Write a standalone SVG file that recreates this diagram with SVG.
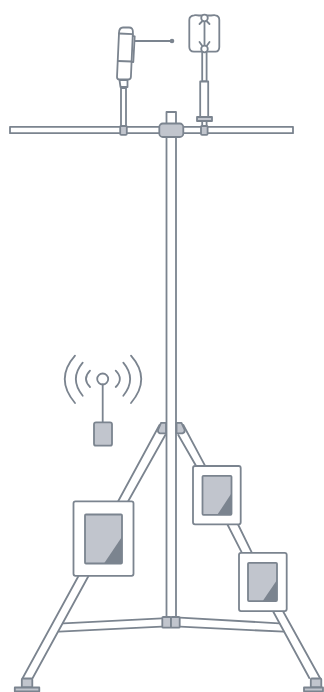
<svg xmlns="http://www.w3.org/2000/svg" width="324" height="692" viewBox="0 0 324 692">
<style>
.s{fill:none;stroke:#7b848f;stroke-width:1.8;stroke-linecap:round;stroke-linejoin:round}
.w{fill:#fff;stroke:#7b848f;stroke-width:1.8;stroke-linejoin:round}
.f{fill:#c1c5cd;stroke:#7b848f;stroke-width:1.8;stroke-linejoin:round}
.d{fill:#7b848f}
</style>
<rect width="324" height="692" fill="#fff"/>
<g id="crossbar"><rect class="w" x="10" y="126.800" width="283" height="6.400"/></g>
<g id="mast">
<rect class="w" x="166.500" y="112" width="9.500" height="14"/>
<rect class="w" x="166.500" y="134" width="9.500" height="484"/>
</g>
<g id="frame">
<g id="legs">
<path class="s" d="M159.500 425L118.300 501M165.300 435L128.300 501M78.500 576L22.700 678M88.500 576L32.700 678"/>
<path class="s" d="M183.300 425L205 465.700M178.300 435L196 465.700M227.700 525L241.700 552.300M238.300 525L251.700 552.300M273.300 611.700L309.300 678M283.300 611.700L320 678"/>
<path class="s" d="M63.300 623.300L161.700 618.300M59 631.700L161.700 626.700M180 617.700L279.300 623.300M180 626.700L284 631.700"/>
</g>
<g id="joint-top">
<path class="f" d="M161 422.800H166V433.300H160Q157.500 432.500 158 430Z"/>
<path class="f" d="M176.500 422.800H181.500L184.700 430Q185 432.500 182.500 433.300H176.500Z"/>
</g>
<g id="joint-bottom">
<rect class="f" x="162.300" y="617" width="8.700" height="10.700" rx="1"/>
<rect class="f" x="171" y="617" width="8.700" height="10.700" rx="1"/>
</g>
<g id="foot-left">
<rect class="f" x="21.800" y="678.500" width="10.500" height="9" rx="1"/>
<rect class="f" x="14.800" y="687.500" width="24.500" height="3.800"/>
</g>
<g id="foot-right">
<rect class="f" x="310.800" y="678.500" width="10.500" height="9" rx="1"/>
<rect class="f" x="304" y="687.500" width="19" height="3.800"/>
</g>
</g>
<g id="hub"><rect class="f" x="159.300" y="123.500" width="24" height="13.500" rx="3.500"/></g>
<g id="clamp-left"><rect class="f" x="120.200" y="125.800" width="6.600" height="9" rx="1"/></g>
<g id="clamp-right"><rect class="f" x="201" y="125.800" width="6.600" height="9" rx="1"/></g>
<g id="sensor-left">
<rect class="w" x="121" y="88" width="5" height="38"/>
<path class="w" d="M119.500 80H127.500V87H120.500Z"/>
<path class="w" d="M123 27.500H129Q133 27.500 132.900 32L130.900 77Q130.800 79.500 128 79.500H119.500Q117 79.500 117 77L119 33Q119.200 27.500 123 27.500Z"/>
<path class="s" d="M119 33.500L132.800 34.200M117.800 61L131.700 61.500"/>
<path class="s" d="M132.800 36L134.700 36.300L133.300 62H131.700"/>
<path class="s" d="M135 41H172"/>
<circle class="d" cx="172" cy="41" r="2.300"/>
</g>
<g id="sensor-right">
<rect class="w" x="202.200" y="52" width="4.400" height="29.500"/>
<rect class="w" x="200.200" y="81.500" width="8" height="36"/>
<rect class="f" x="197" y="117" width="15" height="4"/>
<rect class="w" x="202.200" y="121" width="4.400" height="5"/>
<path class="w" d="M194 15.300Q196 15 199 15.500L201 15.500H208L211 15.500Q214 15 215.500 15.300Q219.300 15.800 219.300 20V47Q219.300 51.500 215.500 51.700H194Q189.300 51.500 189.300 47V20Q189.300 15.800 194 15.300Z"/>
<path class="s" d="M204.500 22V45.500M199.500 24L202 21.500M209.500 24L207 21.500M199.500 42L202 45.500M209.500 42L207 45.500"/>
<circle class="w" cx="204.500" cy="18" r="3.300"/>
<circle class="w" cx="204.500" cy="49" r="3.300"/>
</g>
<g id="antenna">
<path class="s" d="M75 355.700Q54.500 379 75 403M131 355.700Q151.500 379 131 403M82.700 362.700Q69 379 82.700 395.700M123.300 362.700Q137 379 123.300 395.700M90 370.700Q82 379 90 387M115.700 370.700Q124 379 115.700 387"/>
<circle class="w" cx="102.700" cy="379" r="5.500"/>
<path class="s" d="M102.700 384.500V422"/>
<rect class="f" x="94" y="422.300" width="18" height="23.400" rx="2"/>
</g>
<g id="box-left">
<rect class="w" x="73.500" y="501.300" width="60" height="74.500" rx="2"/>
<rect class="f" x="85" y="514.500" width="37" height="49" rx="1"/>
<path class="d" d="M104 563.500L122 536.700V563.500Z"/>
</g>
<g id="box-middle">
<rect class="w" x="193" y="466" width="47.700" height="58.300" rx="2"/>
<rect class="f" x="202.500" y="475.800" width="29" height="39" rx="1"/>
<path class="d" d="M217.300 514.800L231.500 493.300V514.800Z"/>
</g>
<g id="box-right">
<rect class="w" x="239" y="552.800" width="47.700" height="58.300" rx="2"/>
<rect class="f" x="248" y="562.800" width="29" height="38.300" rx="1"/>
<path class="d" d="M262.700 601.100L277 580V601.100Z"/>
</g>
</svg>
